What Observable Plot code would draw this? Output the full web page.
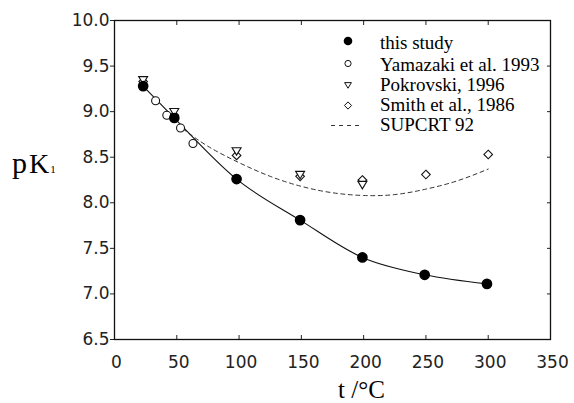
<!DOCTYPE html>
<html><head><meta charset="utf-8">
<script src="https://cdn.jsdelivr.net/npm/d3@7"></script>
<script src="https://cdn.jsdelivr.net/npm/@observablehq/plot@0.6"></script>
<style>body{margin:0;background:#fff} svg{display:block}</style>
</head><body><div id="chart"></div>
<script>
// ---- data ----
const studyT  = [23, 48, 98, 149, 199, 249, 299];
const studyPK = [9.28, 8.93, 8.26, 7.81, 7.40, 7.21, 7.11];
const yamT    = [33, 42, 53, 63];
const yamPK   = [9.12, 8.96, 8.82, 8.65];
const pokT    = [23, 48, 98, 149, 199];
const pokPK   = [9.35, 9.00, 8.57, 8.31, 8.20];
const smithT  = [23, 48, 98, 149, 199, 250, 300];
const smithPK = [9.33, 8.96, 8.52, 8.29, 8.25, 8.31, 8.53];
const supT    = [55, 75, 100, 125, 150, 175, 200, 225, 250, 275, 300];
const supPK   = [8.81, 8.62, 8.44, 8.29, 8.18, 8.11, 8.08, 8.09, 8.15, 8.24, 8.37];
const xTicks  = [0, 50, 100, 150, 200, 250, 300, 350];
const yTicks  = [6.5, 7.0, 7.5, 8.0, 8.5, 9.0, 9.5, 10.0];
const legendLabels = ["this study", "Yamazaki et al. 1993", "Pokrovski, 1996", "Smith et al., 1986", "SUPCRT 92"];

const toRows = (ts, vs) => ts.map((t, i) => ({t, pK: vs[i]}));
const study = toRows(studyT, studyPK);
const yam = toRows(yamT, yamPK);
const pok = toRows(pokT, pokPK);
const smith = toRows(smithT, smithPK);
const sup = toRows(supT, supPK);

const triDown = {draw(ctx, size) {
  const r = Math.sqrt(size / Math.PI);
  ctx.moveTo(-r, -r * 0.7); ctx.lineTo(r, -r * 0.7); ctx.lineTo(0, r * 0.95); ctx.closePath();
}};
const diamond = {draw(ctx, size) {
  const r = Math.sqrt(size / Math.PI);
  ctx.moveTo(0, -r); ctx.lineTo(r, 0); ctx.lineTo(0, r); ctx.lineTo(-r, 0); ctx.closePath();
}};

const tickFont = "DejaVu Sans, sans-serif";
const blank = () => "";

const chart = Plot.plot({
  width: 574, height: 403,
  marginLeft: 114, marginRight: 24, marginTop: 20, marginBottom: 64,
  x: {domain: [0, 350], label: null},
  y: {domain: [6.5, 10], label: null},
  style: {fontFamily: tickFont, color: "#222", background: "white"},
  marks: [
    Plot.axisX(xTicks, {anchor: "bottom", tickSize: 0, tickPadding: 16, dx: 2, fontSize: 17, label: null}),
    Plot.axisX(xTicks, {anchor: "bottom", tickSize: 4, dy: -4, tickFormat: blank, label: null, stroke: "#222"}),
    Plot.axisX(xTicks, {anchor: "top", tickSize: 4, dy: 4, tickFormat: blank, label: null, stroke: "#222"}),
    Plot.axisY(yTicks, {anchor: "left", tickSize: 4, tickPadding: 1, tickFormat: d3.format(".1f"), fontSize: 17, label: null}),
    Plot.axisY(yTicks, {anchor: "right", tickSize: 4, dx: -4, tickFormat: blank, label: null, stroke: "#222"}),
    Plot.frame({stroke: "#111", strokeWidth: 1.3}),
    Plot.line(sup, {x: "t", y: "pK", curve: "natural", stroke: "#333", strokeWidth: 1, strokeDasharray: "4,3.5"}),
    Plot.line(study, {x: "t", y: "pK", curve: "monotone-x", stroke: "#111", strokeWidth: 1.1}),
    Plot.dot(smith, {x: "t", y: "pK", symbol: diamond, r: 4.3, stroke: "#111", fill: "white", strokeWidth: 1.1}),
    Plot.dot(pok, {x: "t", y: "pK", symbol: triDown, r: 4.5, stroke: "#111", fill: "white", strokeWidth: 1.1}),
    Plot.dot(yam, {x: "t", y: "pK", symbol: "circle", r: 4, stroke: "#111", fill: "white", strokeWidth: 1.1}),
    Plot.dot(study, {x: "t", y: "pK", symbol: "circle", r: 4.6, stroke: "#000", fill: "#000"})
  ]
});
document.getElementById("chart").appendChild(chart);

// ---- legend, axis titles ----
const svg = d3.select(chart);
const serif = "Liberation Serif, Times New Roman, serif";
const lg = svg.append("g").attr("font-family", serif).attr("font-size", 19).attr("fill", "#000")
  .attr("text-anchor", "start");
const markY = [41, 63.5, 85, 105.5, 125.5];
const textY = [48.5, 70.5, 90.5, 110.5, 131];
const symPath = (sym, r) => { const p = d3.path(); sym.draw(p, Math.PI * r * r); return p.toString(); };
const legendSyms = [
  g => g.append("circle").attr("r", 4.3).attr("fill", "#000"),
  g => g.append("circle").attr("r", 3.1).attr("fill", "white").attr("stroke", "#111").attr("stroke-width", 1),
  g => g.append("path").attr("d", symPath(triDown, 3.4)).attr("fill", "white").attr("stroke", "#111").attr("stroke-width", 1),
  g => g.append("path").attr("d", symPath(diamond, 3.6)).attr("fill", "white").attr("stroke", "#111").attr("stroke-width", 1),
  g => g.append("line").attr("x1", -17).attr("x2", 14).attr("stroke", "#333").attr("stroke-dasharray", "4,4")
];
legendLabels.forEach((lab, i) => {
  const g = lg.append("g").attr("transform", `translate(348,${markY[i]})`);
  legendSyms[i](g);
  lg.append("text").attr("x", 380).attr("y", textY[i]).text(lab);
});

const yl = svg.append("text").attr("font-family", serif).attr("fill", "#000")
  .attr("text-anchor", "start").attr("x", 12).attr("y", 173);
yl.append("tspan").attr("font-size", 30).text("p");
yl.append("tspan").attr("font-size", 28).attr("dx", 2).text("K");
yl.append("tspan").attr("font-size", 11).attr("dx", 1).text("1");

svg.append("text").attr("font-family", serif).attr("font-size", 25).attr("fill", "#000")
  .attr("text-anchor", "start").attr("x", 338).attr("y", 398).text("t /°C");
</script>
</body></html>
